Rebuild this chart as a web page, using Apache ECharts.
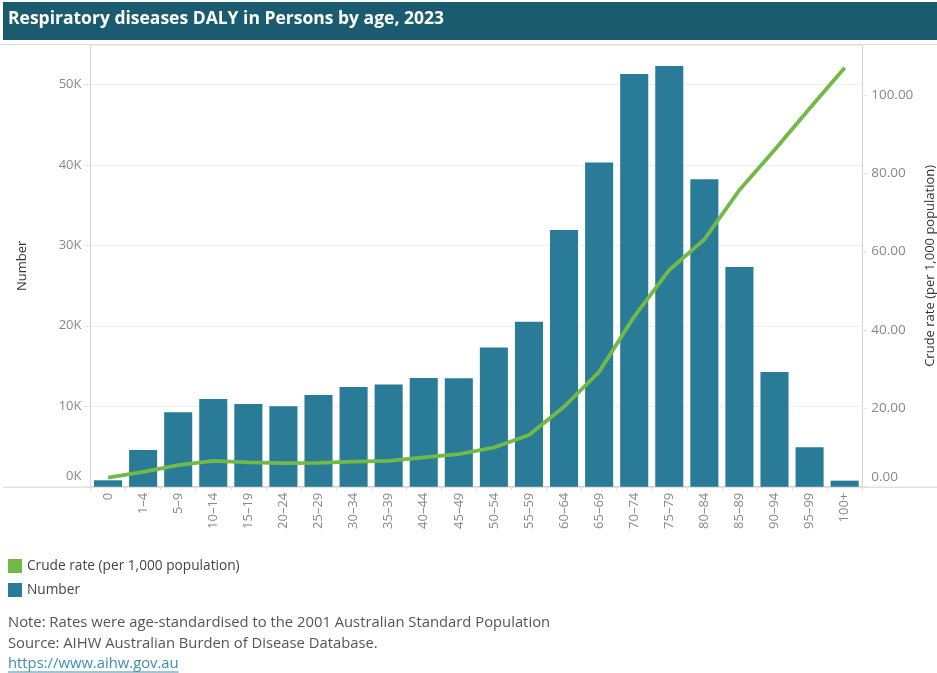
<!DOCTYPE html>
<html>
<head>
<meta charset="utf-8">
<script src="https://cdn.jsdelivr.net/npm/echarts@6/dist/echarts.min.js"></script>
<style>
  html, body { margin: 0; padding: 0; background: #ffffff; }
  #chart { width: 937px; height: 673px; }
</style>
</head>
<body>
<div id="chart"></div>
<script>
// Age groups on the category axis
const ageGroups = ['0', '1–4', '5–9', '10–14', '15–19', '20–24', '25–29', '30–34', '35–39', '40–44',
  '45–49', '50–54', '55–59', '60–64', '65–69', '70–74', '75–79', '80–84', '85–89', '90–94', '95–99', '100+'];

// DALY counts (persons)
const dalyNumber = [800, 4560, 9240, 10900, 10270, 10000, 11400, 12400, 12700, 13500,
  13470, 17300, 20500, 31900, 40300, 51300, 52300, 38200, 27300, 14250, 4900, 750];

// Crude rate per 1,000 population
const crudeRate = [2.3, 3.8, 5.5, 6.6, 6.2, 6.0, 6.1, 6.4, 6.6, 7.5,
  8.3, 10.0, 13.2, 20.4, 29.3, 43.4, 55.3, 63.1, 75.7, 85.9, 96.5, 106.9];

const titleText = 'Respiratory diseases DALY in Persons by age, 2023';
const noteLines = [
  'Note: Rates were age-standardised to the 2001 Australian Standard Population',
  'Source: AIHW Australian Burden of Disease Database.'
];
const linkText = 'https://www.aihw.gov.au';

const FONT = '"Open Sans", "DejaVu Sans", sans-serif';
const BAR_COLOR = '#2a7b97';
const LINE_COLOR = '#72b948';
const AXIS_GREY = '#d4d4d4';
const LABEL_GREY = '#888888';
const LINK_COLOR = '#3d8db0';
const NOTE_FONT = '14.8px ' + FONT;

const W = 937, H = 673;
const grid = { left: 90.5, right: 74.8, top: 45, bottom: 186.3, outerBoundsMode: 'none', containLabel: false };
const baseY = H - grid.bottom;

// width of the link text, for its underline
const measureCtx = document.createElement('canvas').getContext('2d');
measureCtx.font = NOTE_FONT;
const linkWidth = measureCtx.measureText(linkText).width;

const chart = echarts.init(document.getElementById('chart'), null, { renderer: 'canvas' });

chart.setOption({
  animation: false,
  backgroundColor: '#ffffff',
  textStyle: { fontFamily: FONT },
  grid: grid,
  legend: {
    orient: 'vertical',
    left: 3,
    top: 554,
    itemWidth: 14,
    itemHeight: 14,
    itemGap: 10,
    icon: 'rect',
    selectedMode: false,
    textStyle: { fontFamily: FONT, fontSize: 13.7, color: '#444' },
    data: [
      { name: 'Crude rate (per 1,000 population)', itemStyle: { color: LINE_COLOR } },
      { name: 'Number', itemStyle: { color: BAR_COLOR } }
    ]
  },
  xAxis: {
    type: 'category',
    data: ageGroups,
    boundaryGap: true,
    axisLine: { show: true, lineStyle: { color: AXIS_GREY, width: 1 } },
    axisTick: { show: true, length: 4, lineStyle: { color: '#e2e2e2' } },
    axisLabel: {
      rotate: 90,
      interval: 0,
      margin: 6,
      fontSize: 13,
      color: LABEL_GREY,
      fontFamily: FONT
    }
  },
  yAxis: [
    {
      type: 'value',
      min: 0,
      max: 54900,
      interval: 10000,
      name: 'Number',
      nameLocation: 'middle',
      nameRotate: 90,
      nameGap: 62,
      nameTextStyle: { fontSize: 13, color: '#333', fontFamily: FONT },
      axisLine: { show: true, lineStyle: { color: AXIS_GREY } },
      axisTick: { show: true, length: 7, lineStyle: { color: '#e6e6e6' } },
      splitLine: { show: true, lineStyle: { color: '#efefef', width: 1 } },
      axisLabel: {
        showMaxLabel: false,
        margin: 9,
        fontSize: 13,
        color: LABEL_GREY,
        fontFamily: FONT,
        formatter: function (v) {
          return v === 0 ? '{z|0K}' : (v / 1000) + 'K';
        },
        rich: { z: { fontSize: 13, color: LABEL_GREY, fontFamily: FONT, padding: [0, 0, 20, 0] } }
      }
    },
    {
      type: 'value',
      min: 0,
      max: 112.7,
      interval: 20,
      position: 'right',
      name: 'Crude rate (per 1,000 population)',
      nameLocation: 'middle',
      nameRotate: 90,
      nameGap: 62,
      nameTextStyle: { fontSize: 13, color: '#333', fontFamily: FONT },
      axisLine: { show: true, lineStyle: { color: AXIS_GREY } },
      axisTick: { show: true, length: 5, lineStyle: { color: '#e6e6e6' } },
      splitLine: { show: false },
      axisLabel: {
        showMaxLabel: false,
        margin: 9,
        fontSize: 13.5,
        color: LABEL_GREY,
        fontFamily: FONT,
        formatter: function (v) {
          return v === 0 ? '{z|0.00}' : v.toFixed(2);
        },
        rich: { z: { fontSize: 13.5, color: LABEL_GREY, fontFamily: FONT, padding: [0, 0, 20, 0] } }
      }
    }
  ],
  series: [
    {
      name: 'Number',
      type: 'bar',
      yAxisIndex: 0,
      data: dalyNumber,
      barCategoryGap: '20%',
      itemStyle: { color: BAR_COLOR },
      z: 2
    },
    {
      name: 'Crude rate (per 1,000 population)',
      type: 'line',
      yAxisIndex: 1,
      data: crudeRate,
      showSymbol: false,
      smooth: false,
      lineStyle: { color: LINE_COLOR, width: 3.8 },
      itemStyle: { color: LINE_COLOR },
      z: 3
    }
  ],
  graphic: [
    // title banner
    { type: 'rect', left: 3, top: 2, shape: { width: W - 3, height: 38 }, style: { fill: '#1b5b6f' }, silent: true },
    {
      type: 'text', left: 8, top: 10, silent: true,
      style: { text: titleText, fill: '#ffffff', font: 'bold 17.5px ' + FONT }
    },
    // pane frame lines
    { type: 'line', silent: true, shape: { x1: 0, y1: grid.top - 0.5, x2: W, y2: grid.top - 0.5 }, style: { stroke: '#dcdcdc', lineWidth: 1 } },
    { type: 'line', silent: true, shape: { x1: 3, y1: baseY + 0.5, x2: W, y2: baseY + 0.5 }, style: { stroke: AXIS_GREY, lineWidth: 1 } },
    // notes
    { type: 'text', left: 8, top: 615, silent: true, style: { text: noteLines[0], fill: '#555555', font: NOTE_FONT } },
    { type: 'text', left: 8, top: 636, silent: true, style: { text: noteLines[1], fill: '#555555', font: NOTE_FONT } },
    { type: 'text', left: 8, top: 656, silent: true, style: { text: linkText, fill: LINK_COLOR, font: NOTE_FONT } },
    { type: 'line', silent: true, shape: { x1: 8, y1: 672, x2: 8 + linkWidth, y2: 672 }, style: { stroke: LINK_COLOR, lineWidth: 1 } }
  ]
});
</script>
</body>
</html>
